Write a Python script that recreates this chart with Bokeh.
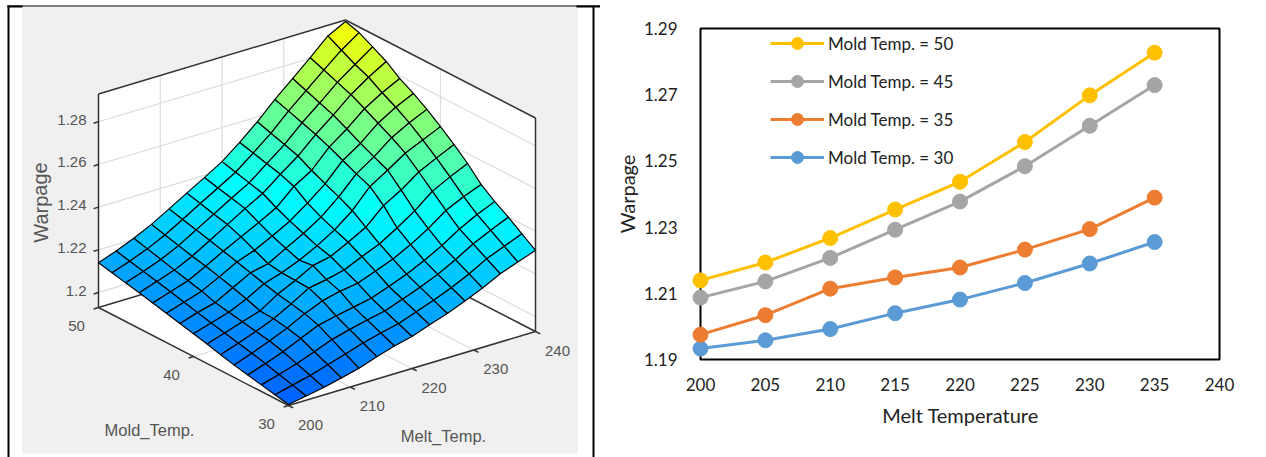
from bokeh.plotting import figure
from bokeh.layouts import row
from bokeh.embed import file_html
from bokeh.resources import INLINE
from bokeh.core.properties import value
from bokeh.models import (BoxAnnotation, ColumnDataSource, FixedTicker, Legend,
                          LegendItem, Range1d)

# ---------- line chart data ----------
melt_line = [200, 205, 210, 215, 220, 225, 230, 235]
mold_50 = [1.2139, 1.2193, 1.2267, 1.2353, 1.2437, 1.2557, 1.2698, 1.2827]
mold_45 = [1.2087, 1.2136, 1.2207, 1.2292, 1.2377, 1.2484, 1.2606, 1.2729]
mold_35 = [1.1975, 1.2034, 1.2114, 1.2148, 1.2178, 1.2232, 1.2294, 1.2389]
mold_30 = [1.1933, 1.1958, 1.1992, 1.2040, 1.2081, 1.2131, 1.2190, 1.2255]
line_names = ["Mold Temp. = 50", "Mold Temp. = 45", "Mold Temp. = 35", "Mold Temp. = 30"]
line_colors = ["#FFC000", "#A5A5A5", "#ED7D31", "#5B9BD5"]

# ---------- surface data: one row per melt step, one value per mold step ----------
melt_grid = [200, 202.857, 205.714, 208.571, 211.429, 214.286, 217.143, 220,
             222.857, 225.714, 228.571, 231.429, 234.286, 237.143, 240]
mold_grid = [30, 31.429, 32.857, 34.286, 35.714, 37.143, 38.571, 40,
             41.429, 42.857, 44.286, 45.714, 47.143, 48.571, 50]
warpage_surface = [
    [1.1935, 1.1948, 1.1961, 1.1974, 1.1988, 1.2004, 1.2021, 1.2037, 1.2052, 1.2067, 1.2082, 1.2097, 1.2111, 1.2126, 1.2140],
    [1.1950, 1.1968, 1.1985, 1.2003, 1.2019, 1.2033, 1.2048, 1.2062, 1.2078, 1.2094, 1.2110, 1.2125, 1.2140, 1.2155, 1.2170],
    [1.1965, 1.1988, 1.2011, 1.2034, 1.2051, 1.2063, 1.2076, 1.2088, 1.2100, 1.2121, 1.2137, 1.2154, 1.2171, 1.2188, 1.2205],
    [1.1985, 1.2014, 1.2042, 1.2071, 1.2087, 1.2098, 1.2102, 1.2125, 1.2145, 1.2163, 1.2180, 1.2194, 1.2211, 1.2228, 1.2245],
    [1.2005, 1.2039, 1.2074, 1.2108, 1.2130, 1.2143, 1.2155, 1.2172, 1.2190, 1.2208, 1.2226, 1.2243, 1.2260, 1.2276, 1.2293],
    [1.2035, 1.2066, 1.2096, 1.2127, 1.2165, 1.2192, 1.2195, 1.2198, 1.2208, 1.2238, 1.2268, 1.2293, 1.2309, 1.2326, 1.2342],
    [1.2060, 1.2088, 1.2116, 1.2144, 1.2185, 1.2207, 1.2240, 1.2232, 1.2255, 1.2280, 1.2310, 1.2343, 1.2359, 1.2374, 1.2390],
    [1.2080, 1.2107, 1.2134, 1.2161, 1.2198, 1.2227, 1.2258, 1.2275, 1.2300, 1.2325, 1.2355, 1.2389, 1.2406, 1.2423, 1.2440],
    [1.2110, 1.2137, 1.2164, 1.2191, 1.2230, 1.2265, 1.2300, 1.2325, 1.2352, 1.2385, 1.2430, 1.2454, 1.2471, 1.2488, 1.2505],
    [1.2138, 1.2167, 1.2195, 1.2224, 1.2262, 1.2300, 1.2345, 1.2390, 1.2422, 1.2450, 1.2480, 1.2515, 1.2536, 1.2556, 1.2577],
    [1.2172, 1.2201, 1.2231, 1.2263, 1.2305, 1.2350, 1.2422, 1.2478, 1.2505, 1.2535, 1.2565, 1.2591, 1.2613, 1.2635, 1.2657],
    [1.2208, 1.2241, 1.2275, 1.2308, 1.2355, 1.2405, 1.2470, 1.2530, 1.2560, 1.2590, 1.2625, 1.2657, 1.2681, 1.2706, 1.2730],
    [1.2250, 1.2287, 1.2324, 1.2361, 1.2415, 1.2472, 1.2530, 1.2585, 1.2625, 1.2660, 1.2695, 1.2728, 1.2753, 1.2778, 1.2803],
    [1.2280, 1.2321, 1.2363, 1.2404, 1.2455, 1.2515, 1.2570, 1.2622, 1.2670, 1.2710, 1.2745, 1.2785, 1.2812, 1.2846, 1.2880],
    [1.2310, 1.2355, 1.2400, 1.2440, 1.2487, 1.2553, 1.2609, 1.2660, 1.2708, 1.2750, 1.2787, 1.2834, 1.2870, 1.2904, 1.2923],
]
z_ticks = [1.2, 1.22, 1.24, 1.26, 1.28]
z_tick_labels = ["1.2", "1.22", "1.24", "1.26", "1.28"]
melt_ticks = [200, 210, 220, 230, 240]
mold_ticks = [30, 40, 50]

# ---------- 3-D projection onto the left panel's pixel scale ----------
Z_LOW, Z_HIGH = 1.193, 1.293


def project(melt, mold, z):
    u, v, w = (melt - 200) / 40, (mold - 30) / 20, (z - Z_LOW) / (Z_HIGH - Z_LOW)
    return 288 + 247 * u - 190 * v, 405 - 74 * u - 98 * v - 213.5 * w


def segment(a, b):
    pa, pb = project(*a), project(*b)
    return [pa[0], pb[0]], [pa[1], pb[1]]


def jet(z):
    t = min(1.0, max(0.0, (z - Z_LOW) / (1.2923 - Z_LOW)))
    cut = 0.47
    if t < cut:
        return "#%02x%02x%02x" % (0, int(95 + 160 * t / cut), 255)
    k = (t - cut) / (1 - cut)
    return "#%02x%02x%02x" % (int(255 * k), 255, int(255 * (1 - k)))


# ---------- table rules ----------
def rule(p, left, right, top, bottom):
    p.add_layout(BoxAnnotation(left=left, right=right, top=top, bottom=bottom,
                               left_units="canvas", right_units="canvas",
                               top_units="canvas", bottom_units="canvas",
                               fill_color="black", fill_alpha=1, line_color=None,
                               level="overlay"))


# ---------- left panel ----------
left = figure(width=600, height=457, x_range=Range1d(0, 600), y_range=Range1d(457, 0),
              output_backend="svg", toolbar_location=None, min_border=0,
              x_axis_type=None, y_axis_type=None, outline_line_color=None,
              background_fill_color="white", border_fill_color="white",
              frame_align=False)
left.grid.visible = False

left.quad(left=[22], right=[577], top=[6], bottom=[453], fill_color="#f0f0f0", line_color=None)

walls = [
    [(200, 50, Z_LOW), (240, 50, Z_LOW), (240, 50, Z_HIGH), (200, 50, Z_HIGH)],
    [(240, 50, Z_LOW), (240, 30, Z_LOW), (240, 30, Z_HIGH), (240, 50, Z_HIGH)],
    [(200, 30, Z_LOW), (240, 30, Z_LOW), (240, 50, Z_LOW), (200, 50, Z_LOW)],
]
wall_xy = [[project(*c) for c in w] for w in walls]
left.patches([[c[0] for c in w] for w in wall_xy], [[c[1] for c in w] for w in wall_xy],
             fill_color="white", line_color=None)

grid_lines = []
for z in z_ticks:
    grid_lines.append(segment((200, 50, z), (240, 50, z)))
    grid_lines.append(segment((240, 50, z), (240, 30, z)))
for m in melt_ticks[1:-1]:
    grid_lines.append(segment((m, 50, Z_LOW), (m, 50, Z_HIGH)))
    grid_lines.append(segment((m, 30, Z_LOW), (m, 50, Z_LOW)))
grid_lines.append(segment((240, 40, Z_LOW), (240, 40, Z_HIGH)))
grid_lines.append(segment((200, 40, Z_LOW), (240, 40, Z_LOW)))
left.multi_line([g[0] for g in grid_lines], [g[1] for g in grid_lines],
                line_color="#dcdcdc", line_width=1.2)

box_lines = [
    segment((200, 50, Z_LOW), (200, 50, Z_HIGH)),
    segment((200, 50, Z_HIGH), (240, 50, Z_HIGH)),
    segment((240, 50, Z_HIGH), (240, 30, Z_HIGH)),
    segment((240, 30, Z_HIGH), (240, 30, Z_LOW)),
    segment((200, 50, Z_LOW), (200, 30, Z_LOW)),
    segment((200, 30, Z_LOW), (240, 30, Z_LOW)),
    segment((200, 50, Z_LOW), (240, 50, Z_LOW)),
    segment((240, 50, Z_LOW), (240, 30, Z_LOW)),
]
for z in z_ticks:
    box_lines.append(segment((200, 50, z), (199.2, 50, z)))
for m in melt_ticks:
    box_lines.append(segment((m, 30, Z_LOW), (m, 29.5, Z_LOW)))
for m in mold_ticks:
    box_lines.append(segment((200, m, Z_LOW), (199.2, m, Z_LOW)))
left.multi_line([g[0] for g in box_lines], [g[1] for g in box_lines],
                line_color="#333333", line_width=1.5)

cell_x, cell_y, cell_c = [], [], []
for i in range(len(melt_grid) - 2, -1, -1):
    for j in range(len(mold_grid) - 2, -1, -1):
        corners = [(i, j), (i + 1, j), (i + 1, j + 1), (i, j + 1)]
        pts = [project(melt_grid[a], mold_grid[b], warpage_surface[a][b]) for a, b in corners]
        cell_x.append([q[0] for q in pts])
        cell_y.append([q[1] for q in pts])
        cell_c.append(jet(sum(warpage_surface[a][b] for a, b in corners) / 4))
left.patches(cell_x, cell_y, fill_color=cell_c, line_color="#000000", line_width=1.2)

LF = value("Liberation Sans")
GREY = "#555555"
zp = [project(200, 50, z) for z in z_ticks]
left.text([p[0] - 12 for p in zp], [p[1] - 2 for p in zp], text=z_tick_labels, text_font=LF,
          text_font_size="15px", text_color=GREY, text_align="right", text_baseline="middle")
mp = [project(200, m, Z_LOW) for m in mold_ticks]
left.text([p[0] - 22 for p in mp], [p[1] + 18 for p in mp], text=[str(m) for m in mold_ticks],
          text_font=LF, text_font_size="15px", text_color=GREY, text_align="center",
          text_baseline="middle")
tp = [project(m, 30, Z_LOW) for m in melt_ticks]
left.text([p[0] + 22 for p in tp], [p[1] + 19 for p in tp], text=[str(m) for m in melt_ticks],
          text_font=LF, text_font_size="15px", text_color=GREY, text_align="center",
          text_baseline="middle")
left.text([149], [429], text=["Mold_Temp."], text_font=LF, text_font_size="16.5px",
          text_color=GREY, text_align="center", text_baseline="middle")
left.text([443], [435], text=["Melt_Temp."], text_font=LF, text_font_size="16.5px",
          text_color=GREY, text_align="center", text_baseline="middle")
left.text([40], [202], text=["Warpage"], text_font=LF, text_font_size="20px", text_color=GREY,
          text_align="center", text_baseline="middle", angle=1.5708)

rule(left, 7, 9, 457, 5)
rule(left, 592, 594, 457, 5)
rule(left, 7, 600, 6, 5)
rule(left, 7, 22, 7, 5)
rule(left, 576, 600, 7, 5)

# ---------- right panel ----------
FL, FR, FT, FB = 90, 630, 26, 361     # frame in the panel's pixels
px_x = 519 / 40
px_y = 331 / 0.10
right = figure(width=666, height=457, output_backend="svg", toolbar_location=None,
               x_range=Range1d(200 - 10 / px_x, 240 + 11 / px_x),
               y_range=Range1d(1.19 - 2 / px_y, 1.29 + 2 / px_y),
               min_border_left=FL, min_border_right=666 - FR,
               min_border_top=FT, min_border_bottom=457 - FB,
               outline_line_color=None, background_fill_color="white",
               border_fill_color="white", frame_align=False)
right.grid.visible = False
right.xaxis.ticker = FixedTicker(ticks=[200 + 5 * k for k in range(9)])
right.yaxis.ticker = FixedTicker(ticks=[1.19, 1.21, 1.23, 1.25, 1.27, 1.29])
right.yaxis.formatter.use_scientific = False
for ax in (right.xaxis[0], right.yaxis[0]):
    ax.axis_line_color = None
    ax.major_tick_line_color = None
    ax.minor_tick_line_color = None
    ax.major_label_text_font = "Lato"
    ax.major_label_text_font_size = "17px"
    ax.major_label_text_color = "#222222"
    ax.axis_label_text_font = "Lato"
    ax.axis_label_text_font_style = "normal"
    ax.axis_label_text_color = "#222222"
right.xaxis.axis_label_text_font_size = "20px"
right.yaxis.axis_label_text_font_size = "20px"
right.xaxis.axis_label = "Melt Temperature"
right.yaxis.axis_label = "Warpage"
right.xaxis.major_label_standoff = 10
right.yaxis.major_label_standoff = 7
right.xaxis.axis_label_standoff = 9
right.yaxis.axis_label_standoff = 2

right.quad(left=[200], right=[240], top=[1.29], bottom=[1.19], fill_color=None,
           line_color="black", line_width=2)

items = []
series = [mold_50, mold_45, mold_35, mold_30]
for vals, name, col in reversed(list(zip(series, line_names, line_colors))):
    src = ColumnDataSource(dict(x=melt_line, y=vals))
    l = right.line("x", "y", source=src, line_color=col, line_width=3)
    s = right.scatter("x", "y", source=src, size=15, fill_color=col, line_color=col)
    items.insert(0, LegendItem(label=name, renderers=[l, s]))

legend = Legend(items=items, location=(80, 189), orientation="vertical",
                background_fill_alpha=0, border_line_color=None, margin=0, padding=0,
                glyph_width=54, glyph_height=30, label_height=30, spacing=8,
                label_standoff=4, label_text_font="Lato", label_text_font_size="17px",
                label_text_color="#222222")
right.add_layout(legend)

rule(right, 0, 666, 6, 5)
rule(right, 0, 5, 7, 5)
rule(right, 656, 666, 7, 5)

page = row(left, right, spacing=0, margin=0)
open("out.html", "w").write(file_html(page, INLINE))
